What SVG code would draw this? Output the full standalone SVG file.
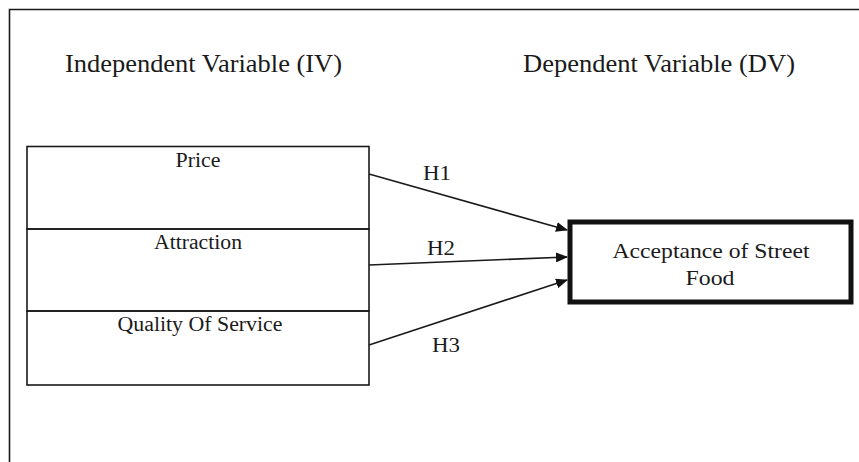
<svg xmlns="http://www.w3.org/2000/svg" width="859" height="462" viewBox="0 0 859 462">
<style>
text{font-family:"Liberation Serif","Times New Roman",Times,"Nimbus Roman","Noto Serif","DejaVu Serif",FreeSerif,Tinos,serif;fill:#1a1a1a}
.title{font-size:25px}
.iv{font-size:20px;text-anchor:middle}
.dv{font-size:22px;text-anchor:middle}
.h{font-size:20px}
.ln{stroke:#1a1a1a;stroke-width:1.6;fill:none}
</style>
<defs>
<marker id="ah" markerWidth="12" markerHeight="10" refX="11" refY="5" orient="auto" markerUnits="userSpaceOnUse">
<path d="M0,0 L12,5 L0,10 Z" fill="#111"/>
</marker>
</defs>
<rect width="859" height="462" fill="#fff"/>
<path class="ln" d="M9.5,462 L9.5,9.5 L859,9.5" stroke-width="1.8"/>
<text class="title" x="65" y="72" textLength="277" lengthAdjust="spacingAndGlyphs">Independent Variable (IV)</text>
<text class="title" x="523" y="72" textLength="272" lengthAdjust="spacingAndGlyphs">Dependent Variable (DV)</text>
<g id="iv-price">
<rect x="27" y="146.5" width="342" height="82.5" class="ln"/>
<text class="iv" x="198" y="167" textLength="45" lengthAdjust="spacingAndGlyphs">Price</text>
</g>
<g id="iv-attraction">
<rect x="27" y="229" width="342" height="82" class="ln"/>
<text class="iv" x="198" y="249" textLength="88" lengthAdjust="spacingAndGlyphs">Attraction</text>
</g>
<g id="iv-quality">
<rect x="27" y="311" width="342" height="74" class="ln"/>
<text class="iv" x="200" y="331" textLength="165" lengthAdjust="spacingAndGlyphs">Quality Of Service</text>
</g>
<g id="dv-acceptance">
<rect x="570" y="222" width="281" height="80" fill="#fff" stroke="#111" stroke-width="5"/>
<text class="dv" x="711" y="258" textLength="197" lengthAdjust="spacingAndGlyphs">Acceptance of Street</text>
<text class="dv" x="710" y="285" textLength="49" lengthAdjust="spacingAndGlyphs">Food</text>
</g>
<g id="connectors">
<line class="ln" x1="369" y1="174" x2="567" y2="230" marker-end="url(#ah)"/>
<line class="ln" x1="369" y1="265" x2="567" y2="257" marker-end="url(#ah)"/>
<line class="ln" x1="369" y1="345" x2="567" y2="280" marker-end="url(#ah)"/>
<text class="h" x="423" y="180" textLength="28" lengthAdjust="spacingAndGlyphs">H1</text>
<text class="h" x="427" y="255" textLength="28" lengthAdjust="spacingAndGlyphs">H2</text>
<text class="h" x="432" y="352" textLength="28" lengthAdjust="spacingAndGlyphs">H3</text>
</g>
</svg>
